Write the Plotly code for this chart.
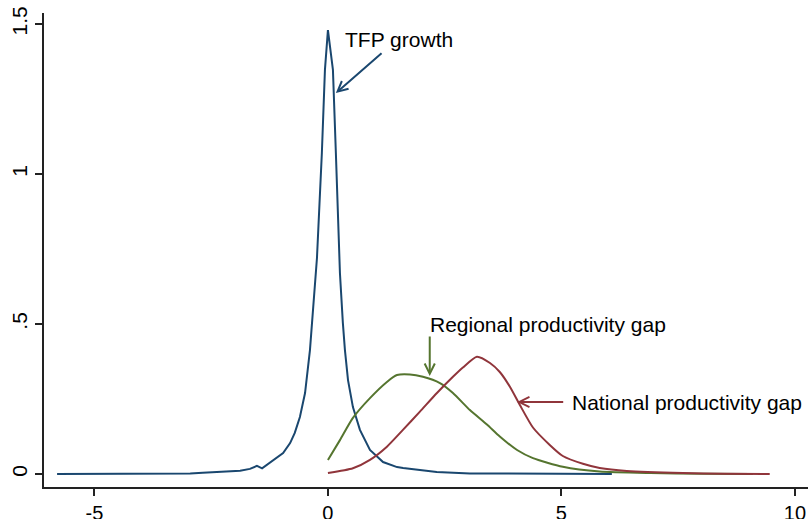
import plotly.graph_objects as go

# TFP growth density
tfp_x = [-5.80, -5.0, -4.2, -3.5, -2.95, -2.68, -2.40, -2.16, -1.88, -1.67, -1.52, -1.41,
         -1.18, -0.96, -0.81, -0.71, -0.60, -0.49, -0.385, -0.32, -0.235, -0.13, -0.064,
         0.0, 0.107, 0.17, 0.235, 0.257, 0.32, 0.364, 0.43, 0.535, 0.685, 0.90, 1.18,
         1.48, 1.61, 2.0, 2.33, 3.04, 3.68, 4.5, 5.3, 6.08]
tfp_y = [0.0, 0.0, 0.0005, 0.001, 0.002, 0.004, 0.006, 0.010, 0.011, 0.017, 0.027, 0.019,
         0.044, 0.07, 0.103, 0.137, 0.19, 0.27, 0.413, 0.557, 0.72, 1.07, 1.347,
         1.48, 1.347, 1.07, 0.78, 0.67, 0.503, 0.413, 0.313, 0.223, 0.147, 0.08, 0.04,
         0.023, 0.02, 0.012, 0.007, 0.002, 0.0015, 0.001, 0.0005, 0.0]

# Regional productivity gap density
reg_x = [0.0, 0.257, 0.535, 0.90, 1.263, 1.478, 1.756, 2.034, 2.398, 2.677, 3.04, 3.405,
         3.68, 4.05, 4.39, 5.03, 5.82, 6.9, 8.0, 9.1]
reg_y = [0.047, 0.113, 0.187, 0.253, 0.307, 0.33, 0.332, 0.324, 0.303, 0.27, 0.213, 0.165,
         0.125, 0.08, 0.053, 0.024, 0.008, 0.003, 0.001, 0.0]

# National productivity gap density
nat_x = [0.0, 0.535, 0.90, 1.263, 1.606, 1.97, 2.334, 2.677, 2.89, 3.19, 3.47, 3.68,
         3.90, 4.11, 4.39, 4.75, 5.03, 5.46, 5.82, 6.40, 7.60, 8.5, 9.46]
nat_y = [0.003, 0.019, 0.047, 0.091, 0.147, 0.208, 0.27, 0.324, 0.355, 0.391, 0.37, 0.34,
         0.29, 0.23, 0.155, 0.097, 0.06, 0.034, 0.02, 0.01, 0.003, 0.001, 0.0]

x_ticks = [-5, 0, 5, 10]
x_labels = ["-5", "0", "5", "10"]
y_ticks = [0, 0.5, 1, 1.5]
y_labels = ["0", ".5", "1", "1.5"]

c_tfp = "#1a476f"
c_reg = "#55752f"
c_nat = "#90353b"
FONT = "Liberation Sans, Arial, sans-serif"

fig = go.Figure()
fig.add_trace(go.Scatter(x=tfp_x, y=tfp_y, mode="lines", line=dict(color=c_tfp, width=2)))
fig.add_trace(go.Scatter(x=reg_x, y=reg_y, mode="lines",
                         line=dict(color=c_reg, width=2, shape="spline", smoothing=0.6)))
fig.add_trace(go.Scatter(x=nat_x, y=nat_y, mode="lines",
                         line=dict(color=c_nat, width=2, shape="spline", smoothing=0.6)))

annos = []
# Text labels
annos.append(dict(x=0.32, y=1.45, text="TFP growth", xanchor="left", yanchor="middle",
                  showarrow=False, font=dict(size=21, color="black", family=FONT)))
annos.append(dict(x=2.14, y=0.497, text="Regional productivity gap", xanchor="left", yanchor="middle",
                  showarrow=False, font=dict(size=21, color="black", family=FONT)))
annos.append(dict(x=5.18, y=0.24, text="National productivity gap", xanchor="left", yanchor="middle",
                  showarrow=False, font=dict(size=21, color="black", family=FONT)))
# Arrows
for (hx, hy, tx, ty, col) in [(0.17, 1.27, 1.18, 1.407, c_tfp),
                               (2.18, 0.327, 2.18, 0.463, c_reg),
                               (4.05, 0.24, 5.07, 0.24, c_nat)]:
    annos.append(dict(x=hx, y=hy, ax=tx, ay=ty, xref="x", yref="y", axref="x", ayref="y",
                      text="", showarrow=True, arrowhead=5, arrowsize=1, arrowwidth=2,
                      arrowcolor=col, standoff=0, startstandoff=0))

fig.update_layout(
    width=808, height=519,
    margin=dict(l=44, r=0, t=13, b=32),
    paper_bgcolor="white", plot_bgcolor="white",
    showlegend=False,
    annotations=annos,
    font=dict(family=FONT, size=20, color="black"),
)
fig.update_xaxes(range=[-6.08, 10.28], tickvals=x_ticks, ticktext=x_labels, automargin=False,
                 ticklabeloverflow="allow",
                 showline=True, linecolor="#222222", linewidth=1.5, ticks="outside",
                 ticklen=7, tickwidth=1.5, tickcolor="#222222", showgrid=False, zeroline=False,
                 tickfont=dict(size=20, family=FONT, color="black"))
fig.update_yaxes(range=[-0.0433, 1.5367], tickvals=y_ticks, ticktext=y_labels, automargin=False,
                 ticklabeloverflow="allow",
                 showline=True, linecolor="#222222", linewidth=1.5, ticks="outside",
                 ticklen=7, tickwidth=1.5, tickcolor="#222222", showgrid=False, zeroline=False,
                 tickangle=-90, tickfont=dict(size=21, family=FONT, color="black"))

fig.write_html("out.html", config={"displayModeBar": False},
               post_script="document.body.style.margin='0px';document.body.style.overflow='hidden';")
